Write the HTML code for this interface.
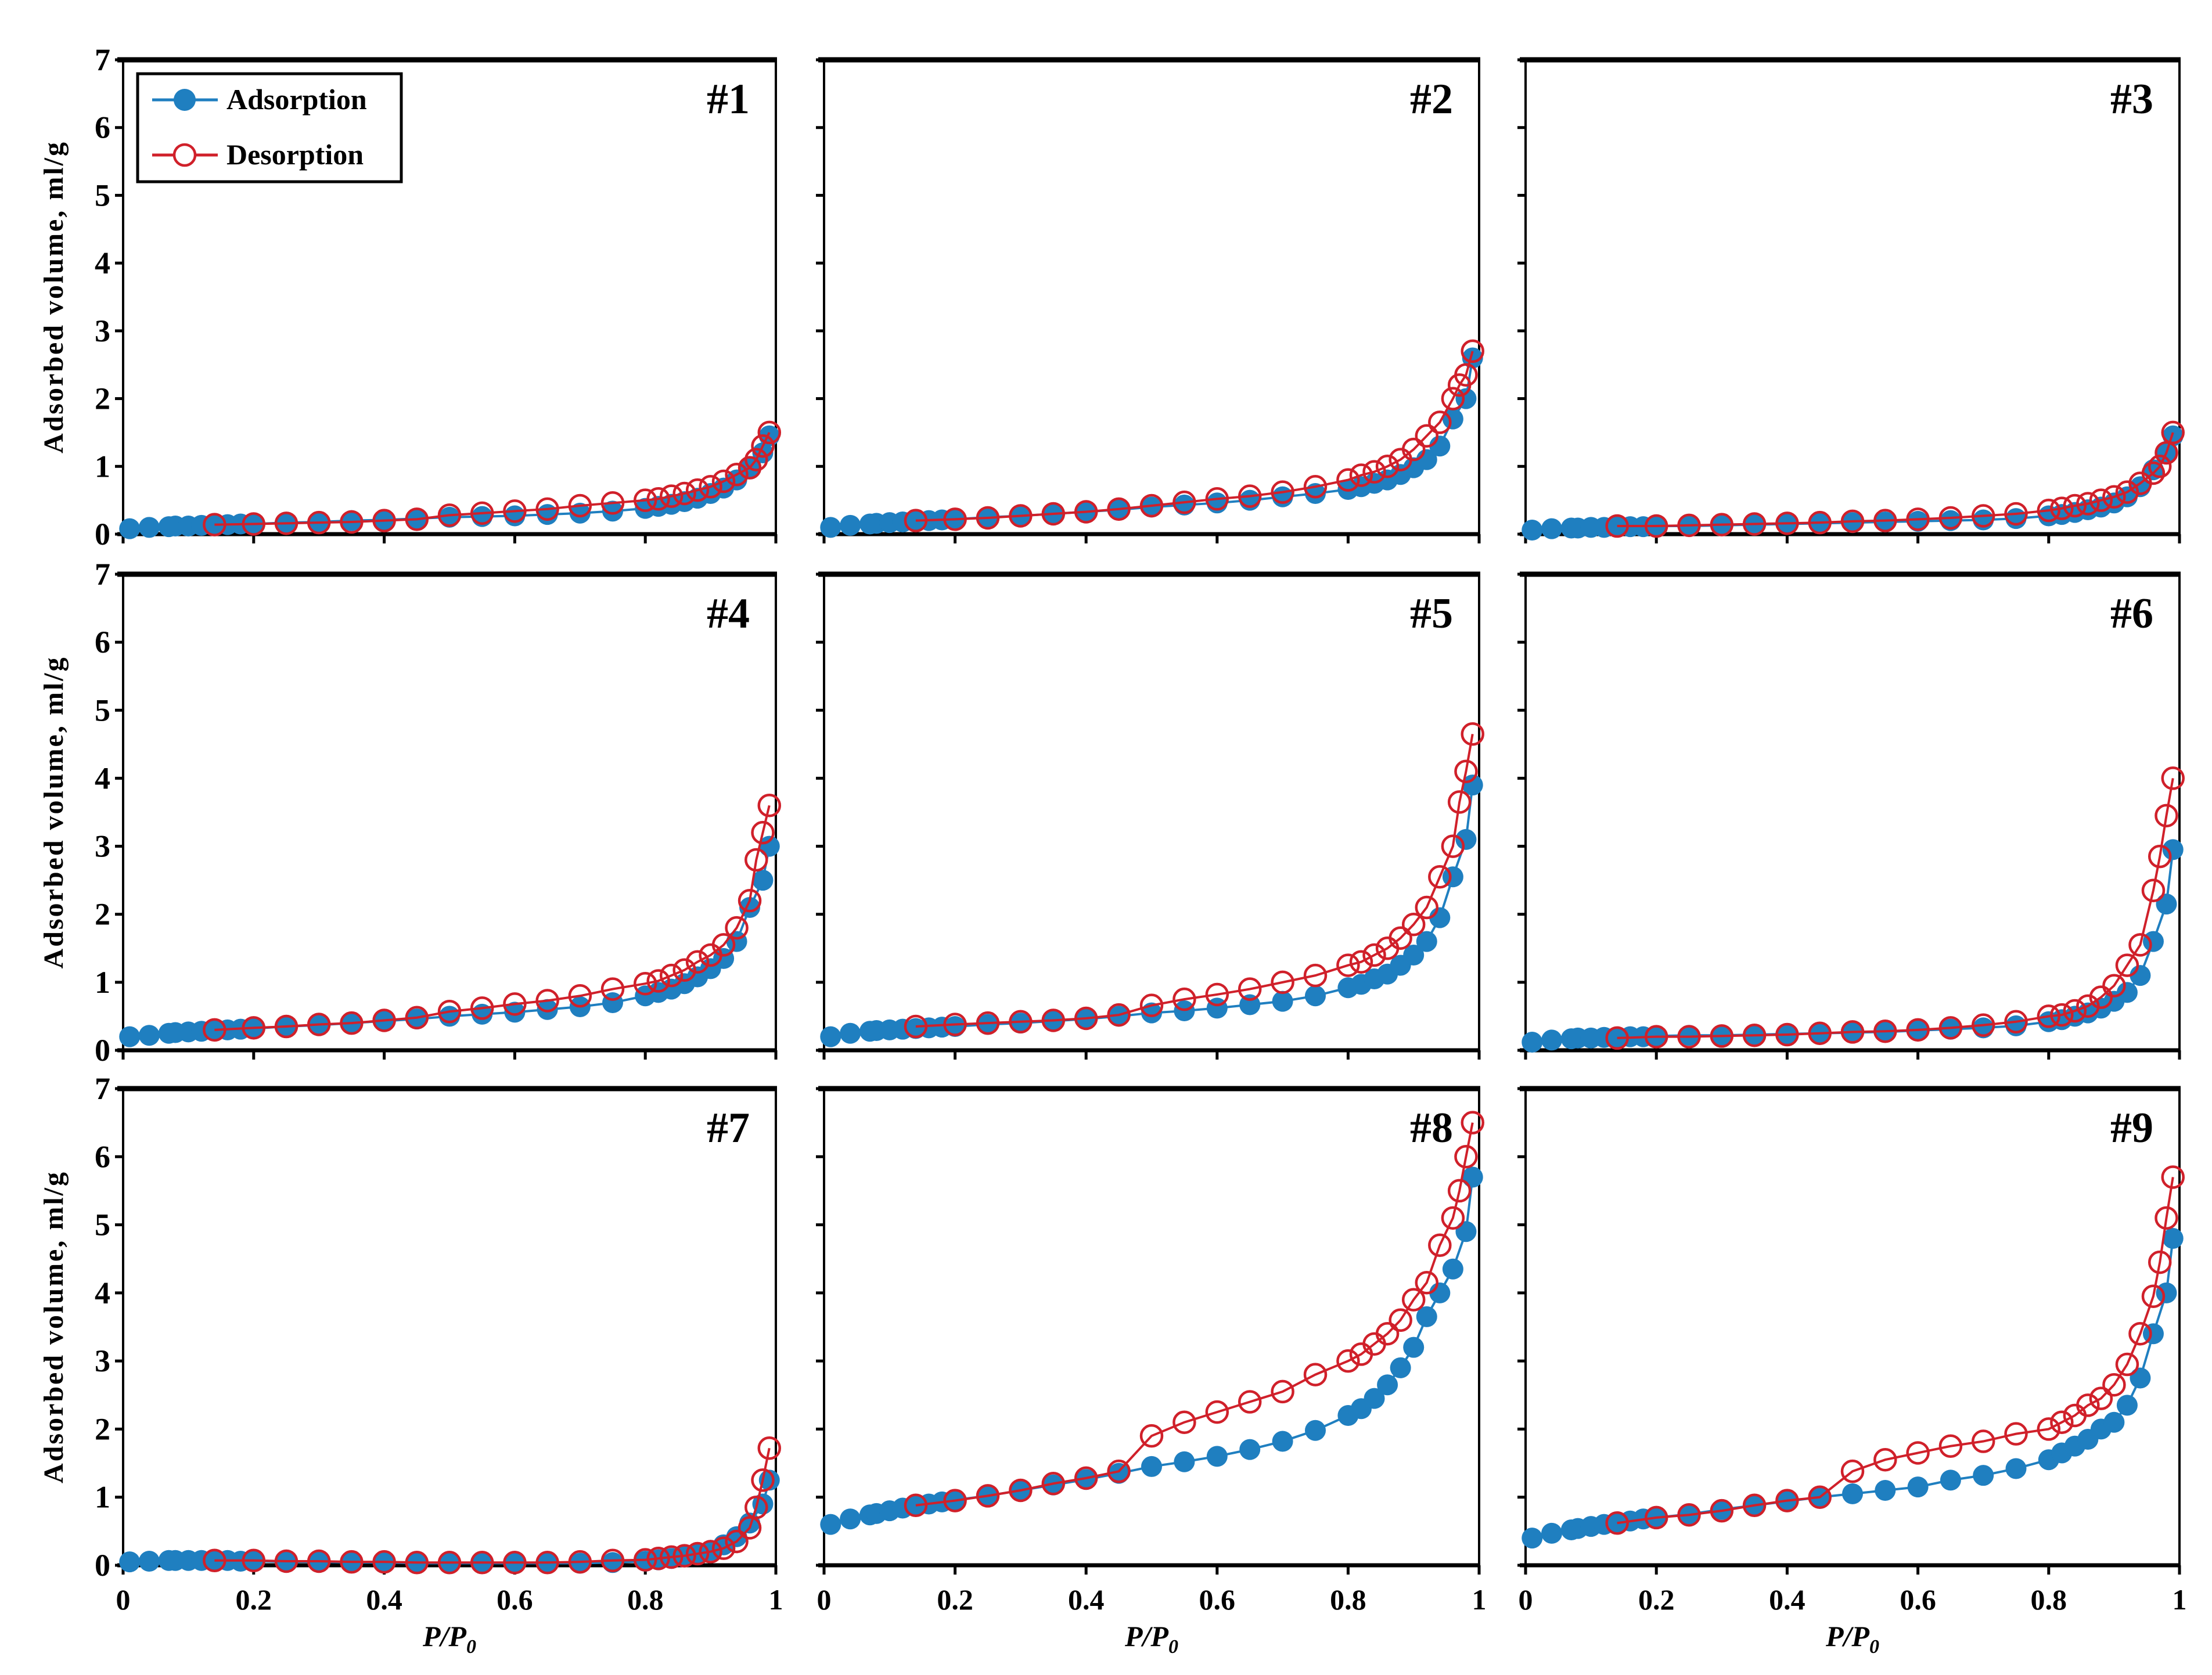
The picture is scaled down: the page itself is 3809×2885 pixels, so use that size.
<!DOCTYPE html>
<html><head><meta charset="utf-8"><style>
html,body{margin:0;padding:0;background:#fff;}
svg{display:block;font-family:"Liberation Serif",serif;font-weight:bold;}
</style></head><body>
<svg id="fig" width="3809" height="2885" viewBox="0 0 3809 2885" xmlns="http://www.w3.org/2000/svg"></svg>
<script>
const adsX = [0.01,0.04,0.07,0.08,0.1,0.12,0.14,0.16,0.18,0.2,0.25,0.3,0.35,0.4,0.45,0.5,0.55,0.6,0.65,0.7,0.75,0.8,0.82,0.84,0.86,0.88,0.9,0.92,0.94,0.96,0.98,0.99];
const desX = [0.99,0.98,0.97,0.96,0.94,0.92,0.9,0.88,0.86,0.84,0.82,0.8,0.75,0.7,0.65,0.6,0.55,0.5,0.45,0.4,0.35,0.3,0.25,0.2,0.14];
const xTicks = [0,0.2,0.4,0.6,0.8,1];
const xTickLabels = ["0","0.2","0.4","0.6","0.8","1"];
const yTicks = [0,1,2,3,4,5,6,7];
const panelNames = ["#1","#2","#3","#4","#5","#6","#7","#8","#9"];
const ads1 = [0.08,0.1,0.11,0.12,0.12,0.13,0.14,0.14,0.15,0.15,0.17,0.18,0.2,0.21,0.23,0.25,0.26,0.27,0.29,0.31,0.34,0.38,0.41,0.44,0.48,0.53,0.6,0.68,0.8,0.98,1.2,1.45];
const des1 = [1.5,1.3,1.1,0.98,0.88,0.78,0.7,0.65,0.6,0.56,0.52,0.5,0.46,0.42,0.37,0.34,0.31,0.28,0.22,0.2,0.18,0.17,0.16,0.15,0.14];
const ads2 = [0.1,0.13,0.15,0.16,0.17,0.18,0.19,0.2,0.21,0.22,0.25,0.27,0.3,0.33,0.36,0.4,0.43,0.46,0.5,0.55,0.6,0.66,0.7,0.75,0.8,0.88,0.98,1.1,1.3,1.7,2.0,2.6];
const des2 = [2.7,2.35,2.2,2.0,1.65,1.45,1.25,1.1,1.0,0.92,0.87,0.8,0.7,0.62,0.56,0.52,0.47,0.42,0.37,0.33,0.3,0.27,0.24,0.22,0.2];
const ads3 = [0.06,0.08,0.09,0.09,0.1,0.1,0.11,0.11,0.11,0.12,0.12,0.13,0.14,0.15,0.16,0.17,0.18,0.19,0.2,0.21,0.23,0.27,0.29,0.32,0.36,0.4,0.46,0.55,0.7,0.95,1.2,1.45];
const des3 = [1.5,1.2,1.0,0.9,0.75,0.62,0.55,0.5,0.45,0.42,0.38,0.35,0.3,0.27,0.24,0.22,0.2,0.19,0.17,0.16,0.15,0.14,0.13,0.12,0.12];
const ads4 = [0.2,0.22,0.25,0.26,0.27,0.28,0.29,0.3,0.31,0.32,0.35,0.37,0.4,0.43,0.46,0.5,0.53,0.56,0.6,0.64,0.7,0.8,0.85,0.9,0.98,1.08,1.2,1.35,1.6,2.1,2.5,3.0];
const des4 = [3.6,3.2,2.8,2.2,1.8,1.55,1.4,1.3,1.18,1.1,1.02,0.98,0.9,0.8,0.73,0.68,0.62,0.57,0.48,0.44,0.4,0.38,0.35,0.33,0.3];
const ads5 = [0.2,0.25,0.28,0.29,0.3,0.31,0.32,0.33,0.34,0.35,0.38,0.4,0.43,0.46,0.5,0.55,0.58,0.62,0.67,0.72,0.8,0.92,0.97,1.05,1.12,1.25,1.4,1.6,1.95,2.55,3.1,3.9];
const des5 = [4.65,4.1,3.65,3.0,2.55,2.1,1.85,1.65,1.5,1.4,1.3,1.25,1.1,1.0,0.9,0.82,0.75,0.66,0.52,0.47,0.44,0.42,0.4,0.38,0.35];
const ads6 = [0.12,0.15,0.17,0.18,0.18,0.19,0.19,0.2,0.2,0.21,0.22,0.22,0.23,0.24,0.25,0.26,0.27,0.29,0.31,0.33,0.36,0.42,0.45,0.5,0.55,0.62,0.72,0.85,1.1,1.6,2.15,2.95];
const des6 = [4.0,3.45,2.85,2.35,1.55,1.25,0.95,0.78,0.65,0.58,0.52,0.5,0.42,0.37,0.33,0.3,0.28,0.27,0.25,0.23,0.22,0.21,0.2,0.2,0.18];
const ads7 = [0.05,0.06,0.07,0.07,0.07,0.07,0.07,0.07,0.06,0.06,0.05,0.05,0.04,0.04,0.03,0.03,0.03,0.03,0.03,0.03,0.04,0.06,0.08,0.1,0.13,0.17,0.22,0.3,0.42,0.62,0.9,1.25];
const des7 = [1.72,1.25,0.85,0.55,0.35,0.25,0.2,0.17,0.14,0.12,0.1,0.08,0.07,0.05,0.04,0.04,0.04,0.04,0.04,0.05,0.05,0.06,0.06,0.07,0.07];
const ads8 = [0.6,0.68,0.74,0.76,0.8,0.84,0.87,0.9,0.93,0.96,1.02,1.1,1.18,1.26,1.35,1.45,1.52,1.6,1.7,1.82,1.98,2.2,2.3,2.45,2.65,2.9,3.2,3.65,4.0,4.35,4.9,5.7];
const des8 = [6.5,6.0,5.5,5.1,4.7,4.15,3.9,3.6,3.4,3.25,3.1,3.0,2.8,2.55,2.4,2.25,2.1,1.9,1.38,1.28,1.2,1.1,1.02,0.95,0.88];
const ads9 = [0.4,0.47,0.52,0.54,0.57,0.6,0.62,0.65,0.68,0.7,0.75,0.82,0.88,0.94,1.0,1.05,1.1,1.15,1.25,1.32,1.42,1.55,1.65,1.75,1.85,2.0,2.1,2.35,2.75,3.4,4.0,4.8];
const des9 = [5.7,5.1,4.45,3.95,3.4,2.95,2.65,2.45,2.35,2.2,2.1,2.0,1.93,1.82,1.75,1.65,1.55,1.38,1.0,0.95,0.88,0.8,0.74,0.7,0.62];
const adsAll = [ads1,ads2,ads3,ads4,ads5,ads6,ads7,ads8,ads9];
const desAll = [des1,des2,des3,des4,des5,des6,des7,des8,des9];

const NS = "http://www.w3.org/2000/svg";
const svg = document.getElementById('fig');
const colsX = [[212,1336],[1419,2547],[2627,3753]];
const rowsY = [[103,920],[989,1809],[1875,2696]];
const BLUE = "#1f7fc0", RED = "#d0202a";
function mk(tag, attrs, parent){
  const e = document.createElementNS(NS, tag);
  for (const k in attrs) e.setAttribute(k, attrs[k]);
  (parent||svg).appendChild(e);
  return e;
}
for (let p = 0; p < 9; p++) {
  const c = p % 3, r = Math.floor(p / 3);
  const [x0, x1] = colsX[c], [yt, yb] = rowsY[r];
  const sx = v => x0 + v * (x1 - x0);
  const sy = v => yb - v / 7 * (yb - yt);
  const g = mk('g', {});
  
  
  const fr = mk('rect', {x: x0, y: yt, width: x1 - x0, height: yb - yt, fill: 'none', stroke: '#000', 'stroke-width': 4}, g);
  
  
  mk('line', {x1: x0 - 10, x2: x1 + 2, y1: yt, y2: yt, stroke: '#000', 'stroke-width': 9}, g);
  mk('line', {x1: x0 - 10, x2: x1 + 2, y1: yb, y2: yb, stroke: '#000', 'stroke-width': 7}, g);
  yTicks.forEach(t => {
    mk('line', {x1: x0 - 14, x2: x0, y1: sy(t), y2: sy(t), stroke: '#000', 'stroke-width': 5}, g);
    if (c === 0) {
      const tl = mk('text', {x: x0 - 22, y: sy(t) + 18, 'text-anchor': 'end', 'font-size': 54, 'font-stretch': 'condensed'}, g);
      tl.textContent = t;
      
      
    }
  });
  xTicks.forEach((t, i) => {
    mk('line', {x1: sx(t), x2: sx(t), y1: yb, y2: yb + 16, stroke: '#000', 'stroke-width': 5}, g);
    if (r === 2) {
      const tl = mk('text', {x: sx(t), y: 2772, 'text-anchor': 'middle', 'font-size': 50}, g);
      tl.textContent = xTickLabels[i];
      
      
    }
  });
  const ads = adsAll[p], des = desAll[p];
  const ap = mk('polyline', {points: adsX.map((x, i) => sx(x) + ',' + sy(ads[i])).join(' '), fill: 'none', stroke: BLUE, 'stroke-width': 4}, g);
  
  
  adsX.forEach((x, i) => {
    const m = mk('circle', {cx: sx(x), cy: sy(ads[i]), r: 18, fill: BLUE}, g);
    
    
  });
  const dp = mk('polyline', {points: desX.map((x, i) => sx(x) + ',' + sy(des[i])).join(' '), fill: 'none', stroke: RED, 'stroke-width': 4}, g);
  
  
  desX.forEach((x, i) => {
    const m = mk('circle', {cx: sx(x), cy: sy(des[i]), r: 18, fill: 'none', stroke: RED, 'stroke-width': 4.5}, g);
    
    
  });
  const pl = mk('text', {x: x1 - 45, y: yt + 92, 'text-anchor': 'end', 'font-size': 74}, g);
  pl.textContent = panelNames[p];
  
  
  if (c === 0) {
    const cy = (yt + yb) / 2;
    const yt2 = mk('text', {x: 0, y: 0, transform: 'translate(108,' + cy + ') rotate(-90)', 'text-anchor': 'middle', 'font-size': 48, 'letter-spacing': 3}, g);
    yt2.textContent = 'Adsorbed volume, ml/g';
    
    
  }
  if (r === 2) {
    const xt = mk('text', {x: (x0 + x1) / 2, y: 2835, 'text-anchor': 'middle', 'font-size': 50, 'font-style': 'italic'}, g);
    xt.innerHTML = 'P/P<tspan font-size="34" dy="12">0</tspan>';
    
    
  }
}
const lg = mk('g', {});


mk('rect', {x: 237, y: 127, width: 454, height: 186, fill: '#fff', stroke: '#000', 'stroke-width': 5}, lg);
mk('line', {x1: 262, x2: 375, y1: 172, y2: 172, stroke: BLUE, 'stroke-width': 5}, lg);
mk('circle', {cx: 318, cy: 172, r: 19, fill: BLUE}, lg);
const l1 = mk('text', {x: 390, y: 188, 'font-size': 50}, lg);
l1.textContent = 'Adsorption';


mk('line', {x1: 262, x2: 375, y1: 267, y2: 267, stroke: RED, 'stroke-width': 5}, lg);
mk('circle', {cx: 318, cy: 267, r: 18, fill: '#fff', stroke: RED, 'stroke-width': 4.5}, lg);
const l2 = mk('text', {x: 390, y: 283, 'font-size': 50}, lg);
l2.textContent = 'Desorption';


</script>
</body></html>
